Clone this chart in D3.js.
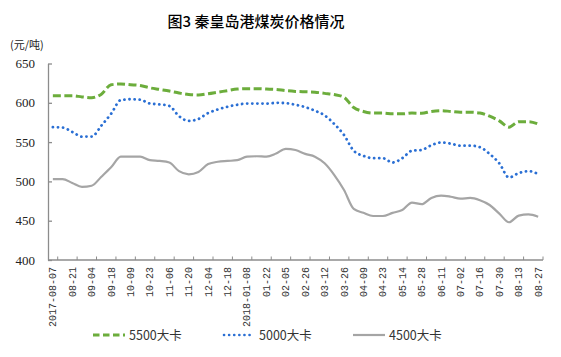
<!DOCTYPE html>
<html>
<head>
<meta charset="utf-8">
<script src="https://cdn.jsdelivr.net/npm/d3@7/dist/d3.min.js"></script>
<style>
  html, body { margin: 0; padding: 0; background: #fff; }
  svg { display: block; }
</style>
</head>
<body>
<svg id="chart" width="561" height="357"></svg>
<script>
// ---------- data ----------
const categories = [
  "2017-08-07","2017-08-14","2017-08-21","2017-08-28","2017-09-04","2017-09-11","2017-09-18","2017-09-25",
  "2017-10-09","2017-10-16","2017-10-23","2017-10-30","2017-11-06","2017-11-13","2017-11-20","2017-11-27",
  "2017-12-04","2017-12-11","2017-12-18","2017-12-25","2018-01-08","2018-01-15","2018-01-22","2018-01-29",
  "2018-02-05","2018-02-12","2018-02-26","2018-03-05","2018-03-12","2018-03-19","2018-03-26","2018-04-02",
  "2018-04-09","2018-04-16","2018-04-23","2018-05-07","2018-05-14","2018-05-21","2018-05-28","2018-06-04",
  "2018-06-11","2018-06-25","2018-07-02","2018-07-09","2018-07-16","2018-07-23","2018-07-30","2018-08-06",
  "2018-08-13","2018-08-20","2018-08-27"
];
const tickLabels = [
  "2017-08-07","08-21","09-04","09-18","10-09","10-23","11-06","11-20","12-04","12-18",
  "2018-01-08","01-22","02-05","02-26","03-12","03-26","04-09","04-23","05-14","05-28",
  "06-11","07-02","07-16","07-30","08-13","08-27"
];
const seriesNames = ["5500大卡", "5000大卡", "4500大卡"];
const price5500 = [
  609, 609, 609, 607.5, 606.5, 611, 623, 624, 623, 622,
  619, 617, 615, 612.5, 610.5, 610, 611.5, 613.5, 615.5, 617.5,
  618, 618, 617.5, 617, 615.5, 614.5, 614, 613.5, 612, 610.5,
  607, 594, 589, 587, 587, 586, 586, 587, 586.6, 589,
  590, 589, 588, 588, 587, 583, 577, 569, 576, 576, 573
];
const price5000 = [
  569, 568.5, 563, 557, 557, 571, 586, 603.5, 604.5, 604,
  599, 598, 596, 583, 577, 579.5, 587, 591.5, 595, 597.5,
  599, 599, 599, 600, 599.5, 597.5, 594.5, 590, 584, 573,
  559, 539, 532.5, 529.5, 529.5, 524, 529.5, 539, 540, 546,
  549.5, 548, 545.5, 545.5, 543.5, 535, 523, 505, 510.5, 513, 509.5
];
const price4500 = [
  503, 503, 498, 493, 494.5, 506, 518, 531.5, 531.5, 531.5,
  527, 526, 524, 513, 509, 512, 522, 525, 526, 527,
  531.5, 532, 531.5, 535.5, 541.5, 540, 535, 531.5, 523, 508,
  489, 465, 460, 456, 456, 460, 463.5, 473, 471, 479,
  482, 480.5, 478, 479, 476, 470, 459, 448, 456.5, 458, 455
];
const yTicks = [400, 450, 500, 550, 600, 650];

(function () {
// ---------- layout ----------
const svg = d3.select("#chart");
const mLeft = 48, mRight = 543, mTop = 63.5, mBottom = 260;
const axisColor = "#8c8c8c";

const x = d3.scaleBand().domain(categories).range([mLeft, mRight]).padding(0);
const y = d3.scaleLinear().domain([400, 650]).range([mBottom, mTop]);
const cx = d => x(d) + x.bandwidth() / 2;

// title
svg.append("text")
  .attr("x", 256).attr("y", 27)
  .attr("text-anchor", "middle")
  .attr("font-family", "'Noto Sans CJK SC', sans-serif")
  .attr("font-size", 15).attr("font-weight", 500).attr("fill", "#000")
  .text("图3  秦皇岛港煤炭价格情况");

// unit
svg.append("text")
  .attr("x", 10).attr("y", 49)
  .attr("font-family", "'Noto Sans CJK SC', sans-serif")
  .attr("font-size", 11).attr("fill", "#222")
  .text("(元/吨)");

// y axis
const yAxis = d3.axisLeft(y).tickValues(yTicks).tickSizeInner(-4).tickSizeOuter(0).tickPadding(13);
const gy = svg.append("g").attr("transform", `translate(${mLeft},0)`).call(yAxis);
gy.select(".domain").attr("stroke", axisColor).attr("stroke-width", 1.3);
gy.selectAll(".tick line").attr("stroke", axisColor).attr("stroke-width", 1.3);
gy.selectAll(".tick text")
  .attr("font-family", "'Liberation Serif', serif")
  .attr("font-size", 13).attr("fill", "#222");

// x axis line
svg.append("line")
  .attr("x1", mLeft).attr("x2", mRight).attr("y1", mBottom).attr("y2", mBottom)
  .attr("stroke", axisColor).attr("stroke-width", 1.3);

// x ticks: at every other category boundary
const tickIdx = d3.range(1, categories.length + 1, 2);
svg.append("g").selectAll("line").data(tickIdx).join("line")
  .attr("x1", i => i < categories.length ? x(categories[i]) : mRight)
  .attr("x2", i => i < categories.length ? x(categories[i]) : mRight)
  .attr("y1", mBottom - 3.5).attr("y2", mBottom)
  .attr("stroke", axisColor).attr("stroke-width", 1);

// x labels at even categories
const labelCats = categories.filter((d, i) => i % 2 === 0);
svg.append("g").selectAll("text").data(labelCats).join("text")
  .attr("transform", d => `translate(${cx(d) + 3.5},${mBottom + 7}) rotate(-90)`)
  .attr("text-anchor", "end")
  .attr("font-family", "'Liberation Mono', monospace")
  .attr("font-size", 10).attr("fill", "#333")
  .text((d, i) => tickLabels[i]);

// lines
const line = d3.line().x((d, i) => cx(categories[i])).y(d => y(d)).curve(d3.curveMonotoneX);

svg.append("path").datum(price4500)
  .attr("d", line).attr("fill", "none")
  .attr("stroke", "#a5a5a5").attr("stroke-width", 2.2);

svg.append("path").datum(price5000)
  .attr("d", line).attr("fill", "none")
  .attr("stroke", "#2a6fd4").attr("stroke-width", 2.8)
  .attr("stroke-linecap", "round").attr("stroke-dasharray", "0.1 5");

svg.append("path").datum(price5500)
  .attr("d", line).attr("fill", "none")
  .attr("stroke", "#6cad3c").attr("stroke-width", 3)
  .attr("stroke-dasharray", "8 3.5");

// legend
const legY = 335;
const legend = [
  { name: seriesNames[0], x1: 93, x2: 125, tx: 129, color: "#6cad3c", w: 3, dash: "6.5 3.5", cap: "butt" },
  { name: seriesNames[1], x1: 224, x2: 254, tx: 259, color: "#2a6fd4", w: 2.6, dash: "0.1 5", cap: "round" },
  { name: seriesNames[2], x1: 353, x2: 385, tx: 389, color: "#a5a5a5", w: 2.2, dash: null, cap: "butt" }
];
const lg = svg.append("g").selectAll("g").data(legend).join("g");
lg.append("line")
  .attr("x1", d => d.x1).attr("x2", d => d.x2).attr("y1", legY).attr("y2", legY)
  .attr("stroke", d => d.color).attr("stroke-width", d => d.w)
  .attr("stroke-dasharray", d => d.dash).attr("stroke-linecap", d => d.cap);
lg.append("text")
  .attr("x", d => d.tx).attr("y", legY + 4.5)
  .attr("font-family", "'Noto Sans CJK SC', sans-serif")
  .attr("font-size", 12.5).attr("fill", "#333")
  .text(d => d.name);
})();
</script>
</body>
</html>
